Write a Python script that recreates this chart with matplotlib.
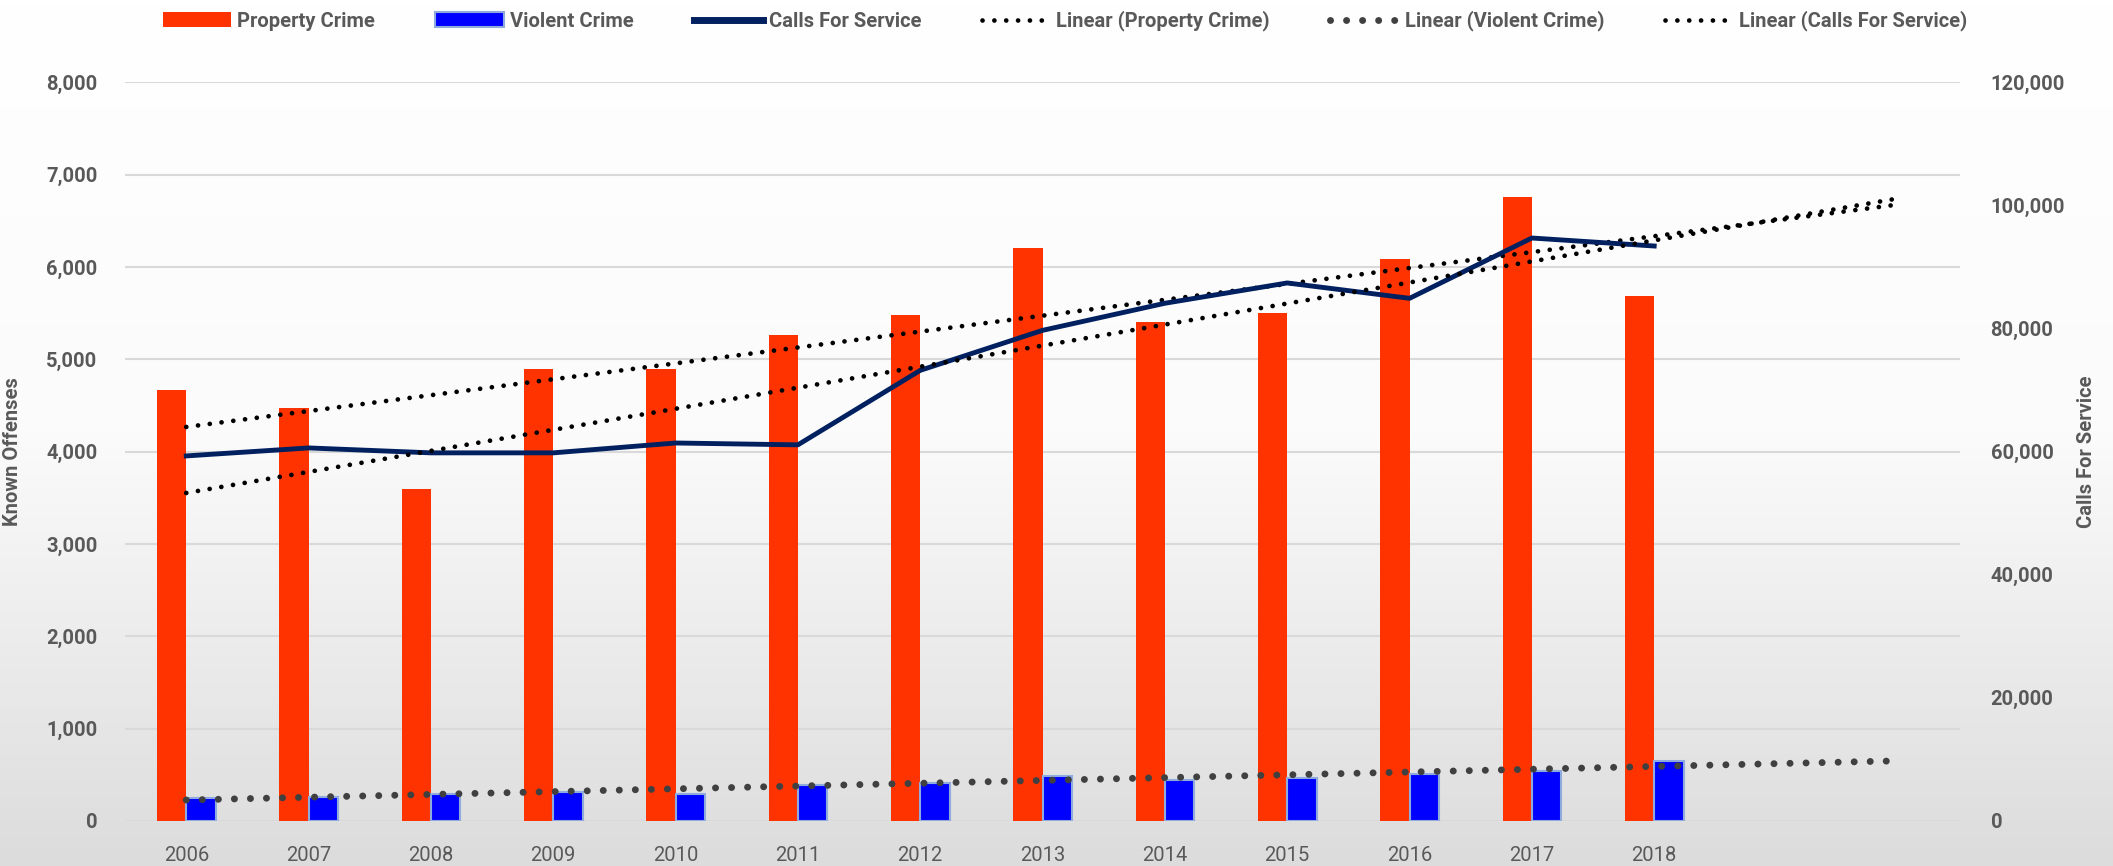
import numpy as np
from matplotlib import pyplot as plt
from matplotlib.colors import LinearSegmentedColormap
from matplotlib.lines import Line2D
from matplotlib.patches import Patch
from matplotlib.ticker import FuncFormatter, MultipleLocator

years = ["2006", "2007", "2008", "2009", "2010", "2011", "2012",
         "2013", "2014", "2015", "2016", "2017", "2018"]
property_crime = [4670, 4470, 3590, 4900, 4890, 5260, 5480, 6200, 5400, 5500, 6090, 6760, 5690]
violent_crime = [246, 261, 297, 315, 297, 388, 409, 489, 449, 464, 511, 536, 652]
calls_for_service = [59300, 60600, 59800, 59800, 61400, 61100, 73200,
                     79700, 84100, 87400, 84900, 94700, 93400]
forecast_periods = 2

RED = "#FF3300"
BLUE = "#0000FF"
NAVY = "#002060"
TEXT = "#595959"

plt.rcParams['font.family'] = ['Roboto', 'DejaVu Sans']

fig = plt.figure(figsize=(21.13, 8.66), dpi=100)

# background gradient, white at top to light grey at bottom
bg = fig.add_axes([0, 0, 1, 1], zorder=-10)
grad = np.linspace(0.0, 1.0, 256).reshape(-1, 1)
bg_cmap = LinearSegmentedColormap.from_list("bg", ["#FFFFFF", "#FBFBFB", "#DCDCDC"])
bg.imshow(grad, aspect='auto', cmap=bg_cmap, extent=[0, 1, 0, 1])
bg.axis('off')

ax = fig.add_axes([0.0592, 0.052, 0.8684, 0.853])
ax.set_facecolor('none')
ax2 = ax.twinx()

n = len(years)
x = np.arange(n)
x_all = np.arange(n + forecast_periods)
w = 0.24

ax.bar(x - w / 2, property_crime, width=w, color=RED, zorder=2)
ax.bar(x + w / 2, violent_crime, width=w, color=BLUE, edgecolor="#8FAADC", linewidth=1.5, zorder=2)

# linear trendlines with forward forecast
p_fit = np.polyfit(x, property_crime, 1)
v_fit = np.polyfit(x, violent_crime, 1)
c_fit = np.polyfit(x, calls_for_service, 1)

dot_small = dict(color="black", lw=3.4, linestyle=(0, (0.01, 2.5)), dash_capstyle='round', zorder=4)
dot_big = dict(color="#404040", lw=5.0, linestyle=(0, (0.01, 2.3)), dash_capstyle='round', zorder=4)

ax.plot(x_all, np.polyval(p_fit, x_all), **dot_small)
ax.plot(x_all, np.polyval(v_fit, x_all), **dot_big)
ax2.plot(x, calls_for_service, color=NAVY, lw=3.5, zorder=3)
ax2.plot(x_all, np.polyval(c_fit, x_all), **dot_small)

ax.set_xlim(-0.5, n + forecast_periods - 0.5)
ax.set_ylim(0, 8000)
ax2.set_ylim(0, 120000)
ax.yaxis.set_major_locator(MultipleLocator(1000))
ax2.yaxis.set_major_locator(MultipleLocator(20000))
fmt = FuncFormatter(lambda v, p: "{:,.0f}".format(v))
ax.yaxis.set_major_formatter(fmt)
ax2.yaxis.set_major_formatter(fmt)

ax.set_xticks(x_all)
ax.set_xticklabels(years + [""] * forecast_periods)

ax.grid(axis='y', color="#D9D9D9", lw=1.5, zorder=0)
ax.set_axisbelow(True)
for a in (ax, ax2):
    for s in a.spines.values():
        s.set_visible(False)
    a.tick_params(length=0)

ax.tick_params(axis='x', labelsize=14.5, labelcolor=TEXT, pad=18)
ax.tick_params(axis='y', labelsize=14.5, labelcolor=TEXT, pad=20)
ax2.tick_params(axis='y', labelsize=14.5, labelcolor=TEXT, pad=22)
for lbl in ax.get_yticklabels() + ax2.get_yticklabels():
    lbl.set_fontweight('bold')

ax.set_ylabel("Known Offenses", fontsize=14.5, fontweight='bold', color=TEXT)
ax2.set_ylabel("Calls For Service", fontsize=14.5, fontweight='bold', color=TEXT)
ax.yaxis.set_label_coords(-0.056, 0.5)
ax2.yaxis.set_label_coords(1.064, 0.5)

handles = [
    Patch(facecolor=RED),
    Patch(facecolor=BLUE, edgecolor="#8FAADC", linewidth=1.5),
    Line2D([], [], color=NAVY, lw=5),
    Line2D([], [], **dot_small),
    Line2D([], [], **dot_big),
    Line2D([], [], **dot_small),
]
labels = ["Property Crime", "Violent Crime", "Calls For Service",
          "Linear (Property Crime)", "Linear (Violent Crime)", "Linear (Calls For Service)"]
leg = fig.legend(handles, labels, loc='center', bbox_to_anchor=(0.504, 0.976), ncol=6,
                 frameon=False, fontsize=14.5, handlelength=3.4, handletextpad=0.3,
                 columnspacing=3.0)
for t in leg.get_texts():
    t.set_color(TEXT)
    t.set_fontweight('bold')

fig.savefig("out.png", dpi=100)
